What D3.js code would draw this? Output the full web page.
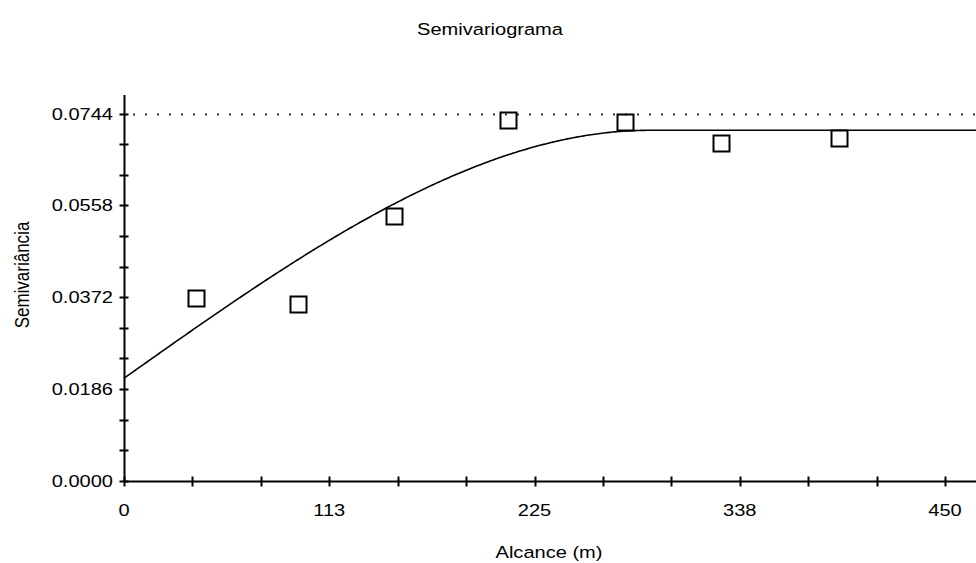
<!DOCTYPE html>
<html>
<head>
<meta charset="utf-8">
<script src="https://cdn.jsdelivr.net/npm/d3@7"></script>
<style>
  html, body { margin: 0; padding: 0; background: #fff; }
  svg { display: block; }
  text { font-family: "Liberation Sans", Arial, sans-serif; fill: #000; }
</style>
</head>
<body>
<svg id="chart" width="976" height="563"></svg>
<script>
// Experimental semivariance per lag class
const lagDistance = [39.5, 95.5, 148.2, 210.7, 274.4, 327.3, 392.1];
const semivariance = [0.0370, 0.0358, 0.0536, 0.0730, 0.0726, 0.0685, 0.0694];

// Fitted spherical model
const nugget = 0.0208;
const sill = 0.0710;
const modelRange = 288;

// Axis ticks
const xTickValues = [0, 37.5, 75, 112.5, 150, 187.5, 225, 262.5, 300, 337.5, 375, 412.5, 450];
const xTickLabels = ["0", "113", "225", "338", "450"];
const yTickValues = [0, 0.0062, 0.0124, 0.0186, 0.0248, 0.0310, 0.0372, 0.0434, 0.0496, 0.0558, 0.0620, 0.0682, 0.0744];
const yTickLabels = ["0.0000", "0.0186", "0.0372", "0.0558", "0.0744"];
const sampleVariance = 0.0744;

const svg = d3.select("#chart");
const W = 976;
const FS = 17, SX = 1.18;

const x = d3.scaleLinear().domain([0, 450]).range([124, 945]);
const y = d3.scaleLinear().domain([0, 0.0744]).range([481, 113.5]);
const xMax = x.invert(W);
const yTop = 95;

// stretched text helper
function label(px, py, str, anchor, rotate) {
  const g = svg.append("g")
    .attr("transform", rotate
      ? `translate(${px},${py}) rotate(-90) scale(1,${SX})`
      : `translate(${px},${py}) scale(${SX},1)`);
  g.append("text")
    .attr("text-anchor", anchor)
    .style("font-size", FS + "px")
    .text(str);
  return g;
}

// title
label(490, 35, "Semivariograma", "middle");

// dotted reference line at sample variance
svg.append("line")
  .attr("x1", x(0) + 9).attr("x2", W)
  .attr("y1", Math.round(y(sampleVariance)) + 0.5).attr("y2", Math.round(y(sampleVariance)) + 0.5)
  .attr("stroke", "#333").attr("stroke-width", 2)
  .attr("stroke-dasharray", "2,10");

// x axis
const xAxisG = svg.append("g").attr("transform", `translate(0,${Math.round(y(0)) + 0.5})`);
xAxisG.append("line").attr("x1", x(0)).attr("x2", W).attr("stroke", "#000").attr("stroke-width", 2);
xAxisG.selectAll("line.tick").data(xTickValues).enter().append("line")
  .attr("class", "tick")
  .attr("x1", d => Math.round(x(d)) + 0.5).attr("x2", d => Math.round(x(d)) + 0.5)
  .attr("y1", -5).attr("y2", 5)
  .attr("stroke", "#000").attr("stroke-width", 2);
xTickLabels.forEach((t, i) => {
  label(x(i * 112.5), 516, t, "middle");
});
label(549, 558, "Alcance (m)", "middle");

// y axis
const yAxisG = svg.append("g").attr("transform", `translate(${Math.round(x(0)) + 0.5},0)`);
yAxisG.append("line").attr("y1", yTop).attr("y2", y(0) + 1).attr("stroke", "#000").attr("stroke-width", 2);
yAxisG.selectAll("line.tick").data(yTickValues).enter().append("line")
  .attr("class", "tick")
  .attr("y1", d => Math.round(y(d)) + 0.5).attr("y2", d => Math.round(y(d)) + 0.5)
  .attr("x1", -5).attr("x2", 4)
  .attr("stroke", "#000").attr("stroke-width", 2);
yTickLabels.forEach((t, i) => {
  label(113, y(i * 0.0186) + 6, t, "end");
});
label(29, 275, "Semivariância", "middle", true);

// spherical model curve
const model = h => h >= modelRange
  ? sill
  : nugget + (sill - nugget) * (1.5 * h / modelRange - 0.5 * Math.pow(h / modelRange, 3));
const hs = d3.range(0, xMax + 1, 1);
svg.append("path")
  .datum(hs)
  .attr("d", d3.line().x(h => x(h)).y(h => y(model(h))))
  .attr("fill", "none").attr("stroke", "#000").attr("stroke-width", 1.6);

// experimental points
const pts = lagDistance.map((h, i) => ({ h, g: semivariance[i] }));
svg.selectAll("rect.pt").data(pts).enter().append("rect")
  .attr("class", "pt")
  .attr("x", d => Math.round(x(d.h)) - 8 + 0.5)
  .attr("y", d => Math.round(y(d.g)) - 8 + 0.5)
  .attr("width", 16).attr("height", 16)
  .attr("fill", "none").attr("stroke", "#000").attr("stroke-width", 2);
</script>
</body>
</html>
